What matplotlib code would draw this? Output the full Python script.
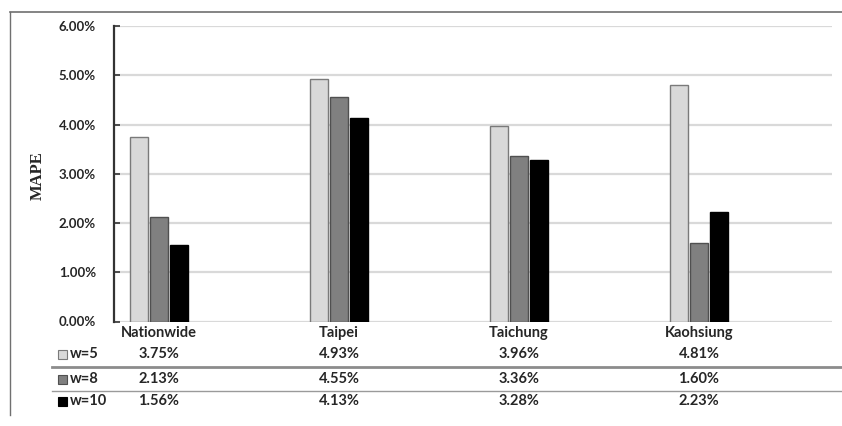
import matplotlib
matplotlib.use("Agg")
import matplotlib.pyplot as plt
import matplotlib.transforms as mtransforms
from matplotlib.lines import Line2D
from matplotlib.patches import Rectangle
import numpy as np

# ---------------------------------------------------------------------------
# Data: MAPE (%) per region for each window size
# ---------------------------------------------------------------------------
regions = ["Nationwide", "Taipei", "Taichung", "Kaohsiung"]
series_names = ["w=5", "w=8", "w=10"]
mape_w5 = [3.75, 4.93, 3.96, 4.81]
mape_w8 = [2.13, 4.55, 3.36, 1.60]
mape_w10 = [1.56, 4.13, 3.28, 2.23]
y_ticks = [0, 1, 2, 3, 4, 5, 6]

series = [mape_w5, mape_w8, mape_w10]
faces = ["#d9d9d9", "#808080", "#000000"]
edges = ["#7a7a7a", "#505050", "#000000"]

plt.rcParams["font.family"] = ["Lato", "DejaVu Sans"]
TXT = dict(fontsize=10.5, color="#262626", fontweight="bold")

fig = plt.figure(figsize=(8.42, 4.26), dpi=100)
ax = fig.add_axes([114 / 842, 1 - 321.5 / 426, (832 - 114) / 842, (321.5 - 26) / 426])

x = np.arange(len(regions))
bw = 0.097
step = 0.111
for i, (vals, fc, ec) in enumerate(zip(series, faces, edges)):
    ax.bar(x + (i - 1) * step, vals, bw, color=fc, edgecolor=ec, linewidth=1.0, zorder=3)

ax.set_xlim(-0.25, 3.739)
ax.set_ylim(0, 6)
ax.set_yticks(y_ticks)
ax.set_yticklabels([f"{v:.2f}%" for v in y_ticks], fontsize=9.5, color="#262626",
                   fontweight="bold")
ax.set_xticks([])
ax.yaxis.grid(True, color="#d9d9d9", linewidth=1.6, zorder=0)
ax.tick_params(axis="y", direction="in", length=4, width=1.2, color="#333333", pad=13)
for side in ("top", "right", "bottom"):
    ax.spines[side].set_visible(False)
ax.spines["left"].set_color("#333333")
ax.spines["left"].set_linewidth(1.6)

fig.text(38 / 842, 1 - 176 / 426, "MAPE", rotation=90, ha="center", va="center",
         fontsize=12, family="Liberation Serif", fontweight="bold", color="#262626")

# ---------------------------------------------------------------------------
# Data table under the chart
# ---------------------------------------------------------------------------
trans = mtransforms.blended_transform_factory(ax.transData, fig.transFigure)
label_y = 1 - 333 / 426
row_y = [1 - 354 / 426, 1 - 379 / 426, 1 - 401 / 426]

for xi, name in zip(x, regions):
    ax.text(xi, label_y, name, transform=trans, ha="center", va="center",
            clip_on=False, **TXT)
    for vals, ry in zip(series, row_y):
        ax.text(xi, ry, f"{vals[xi]:.2f}%", transform=trans, ha="center", va="center",
                clip_on=False, **TXT)

for name, fc, ec, ry in zip(series_names, faces, edges, row_y):
    fig.add_artist(Rectangle((58 / 842, ry - 4.5 / 426), 9 / 842, 9 / 426,
                             transform=fig.transFigure, facecolor=fc, edgecolor=ec, linewidth=0.8))
    fig.text(70 / 842, ry, name, ha="left", va="center", **TXT)

# row separators
fig.add_artist(Line2D([52 / 842, 1.0], [1 - 367 / 426] * 2, color="#8c8c8c", linewidth=2.0))
fig.add_artist(Line2D([52 / 842, 1.0], [1 - 391 / 426] * 2, color="#9a9a9a", linewidth=1.0))

# outer frame (top and left edges)
fig.add_artist(Line2D([10 / 842, 1.0], [1 - 12 / 426] * 2, color="#707070", linewidth=1.2))
fig.add_artist(Line2D([10 / 842] * 2, [1 - 12 / 426, 1 - 415 / 426], color="#707070", linewidth=1.0))

fig.savefig("out.png", dpi=100)
